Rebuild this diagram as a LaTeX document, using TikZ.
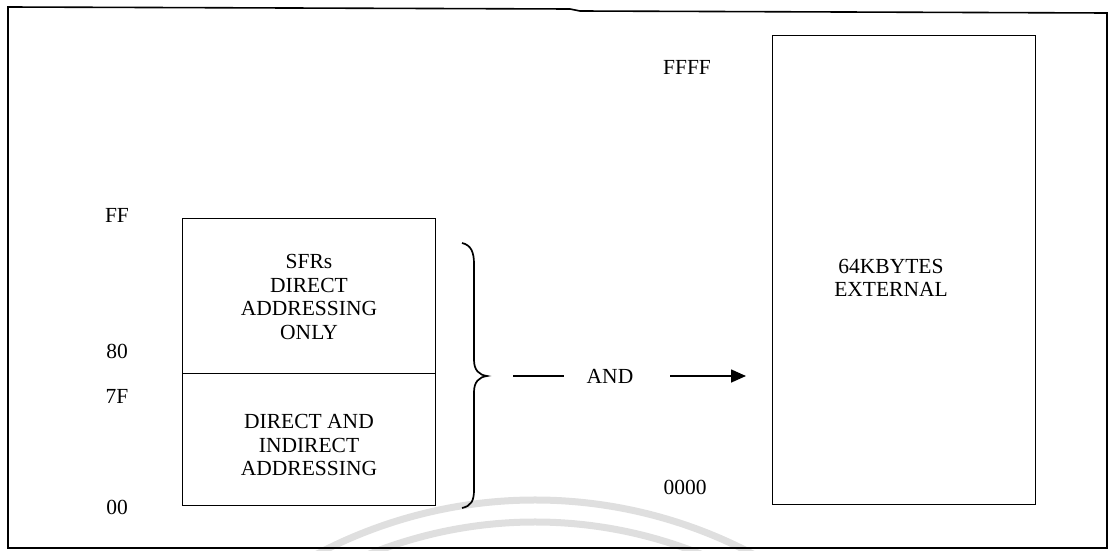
\documentclass[tikz,border=0pt]{standalone}
\usepackage{fontspec}
\setmainfont{Liberation Serif}
\usetikzlibrary{arrows.meta}
\begin{document}
\begin{tikzpicture}[x=1pt,y=-1pt,
  boxline/.style={line width=1.7pt},
  boxtext/.style={align=center,font=\fontsize{21.5}{23.5}\selectfont,inner sep=0pt},
  addr/.style={font=\fontsize{21.5}{22}\selectfont,inner sep=0pt},
  link/.style={line width=1.6pt},
  wmarc/.style={draw=gray!25,line width=7pt}]
\useasboundingbox (0,0) rectangle (1113,551);
% watermark arcs
\begin{scope}
\clip (0,0) rectangle (1113,551);
\draw[wmarc] (535,966) ++(-140:466) arc[start angle=-140,end angle=-40,radius=466];
\draw[wmarc] (535,966) ++(-140:444) arc[start angle=-140,end angle=-40,radius=444];
\end{scope}
% outer frame
\draw[line width=1.6pt] (8,548) -- (8,7) -- (570,9) -- (580,11) -- (1107,13) -- (1107,548) -- cycle;
% left memory block
\node[boxline,draw,minimum width=253pt,minimum height=155pt,inner sep=0pt] (sfr) at (309,296) {};
\node[boxline,draw,minimum width=253pt,minimum height=132pt,inner sep=0pt] (dir) at (309,439.5) {};
\node[boxtext] (sfrt) at (309,297) {SFRs\\DIRECT\\ADDRESSING\\ONLY};
\node[boxtext] (dirt) at (309,445) {DIRECT AND\\INDIRECT\\ADDRESSING};
% address labels
\node[addr] (ff) at (117,215) {FF};
\node[addr] (a80) at (117,351) {80};
\node[addr] (a7f) at (117,396) {7F};
\node[addr] (a00) at (117,507) {00};
% brace
\coordinate (tip) at (487,376);
\draw[line width=1.7pt] (462,243) .. controls (471,245) and (474,252) .. (474,264) -- (474,360) .. controls (474,370) and (479,375) .. (tip) .. controls (479,377) and (474,382) .. (474,392) -- (474,490) .. controls (474,501) and (471,506) .. (462,508);
% AND connector
\node[addr] (and) at (610,376) {AND};
\coordinate (lstart) at (513,376);
\coordinate (aend) at (746,376);
\draw[link] (lstart) -- ([xshift=-23pt]and.west);
\draw[link,-{Triangle[length=15pt,width=13pt]}] ([xshift=37pt]and.east) -- (aend);
% right block
\node[boxline,draw,minimum width=263pt,minimum height=469pt,inner sep=0pt] (ext) at (904,270) {};
\node[boxtext] (extt) at (891,278) {64KBYTES\\EXTERNAL};
\node[addr] (ffff) at (687,67) {FFFF};
\node[addr] (z0000) at (685,487) {0000};
\end{tikzpicture}
\end{document}
